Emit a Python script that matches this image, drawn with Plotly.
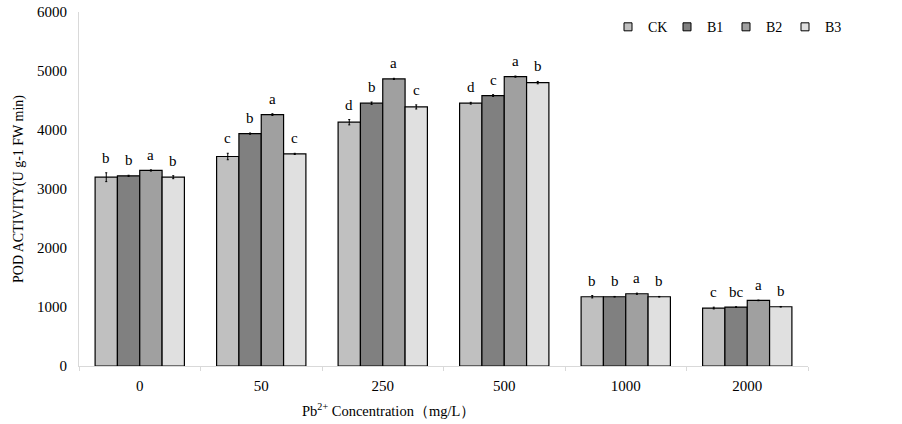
import plotly.graph_objects as go

categories = ["0", "50", "250", "500", "1000", "2000"]
series_names = ["CK", "B1", "B2", "B3"]
ck = [3200, 3551, 4132, 4454, 1174, 982]
b1 = [3223, 3939, 4454, 4584, 1174, 999]
b2 = [3314, 4261, 4866, 4905, 1225, 1112]
b3 = [3200, 3595, 4391, 4803, 1174, 1004]
ck_err = [75, 55, 45, 15, 20, 15]
b1_err = [10, 10, 20, 15, 5, 5]
b2_err = [10, 15, 10, 10, 10, 5]
b3_err = [25, 10, 35, 20, 5, 5]
ck_lab = ["b", "c", "d", "d", "b", "c"]
b1_lab = ["b", "b", "b", "c", "b", "bc"]
b2_lab = ["a", "a", "a", "a", "a", "a"]
b3_lab = ["b", "c", "c", "b", "b", "b"]
colors = ["#c0c0c0", "#808080", "#a0a0a0", "#e0e0e0"]

values = [ck, b1, b2, b3]
errors = [ck_err, b1_err, b2_err, b3_err]
labels = [ck_lab, b1_lab, b2_lab, b3_lab]

FONT = "Liberation Serif, Times New Roman, serif"

fig = go.Figure()
for name, v, e, c in zip(series_names, values, errors, colors):
    fig.add_trace(go.Bar(
        name=name, x=categories, y=v, marker_color=c,
        marker_line_color="black", marker_line_width=1.2, showlegend=False,
        error_y=dict(type="data", array=e, visible=True, color="black",
                     thickness=1, width=1),
    ))
# legend-only entries with small square symbols
for name, c in zip(series_names, colors):
    fig.add_trace(go.Scatter(
        name=name, x=[None], y=[None], mode="markers",
        marker=dict(symbol="square", size=8, color=c, line=dict(color="black", width=1)),
    ))

# significance letters
n = len(series_names)
for si, (v, e, lab) in enumerate(zip(values, errors, labels)):
    for ci, cat in enumerate(categories):
        fig.add_annotation(
            x=ci + (si - (n - 1) / 2) * 0.1837, y=v[ci] + e[ci], text=lab[ci],
            showarrow=False, xref="x", yref="y", yanchor="bottom", yshift=5,
            font=dict(family=FONT, size=15, color="black"),
        )

fig.add_annotation(
    xref="paper", yref="paper", x=(388 - 79) / 729, y=-(410 - 366) / 354.3,
    xanchor="center", yanchor="middle",
    text="Pb<sup>2+</sup> Concentration（mg/L）",
    showarrow=False, font=dict(family=FONT, size=14.5, color="black"),
)

fig.update_layout(
    width=902, height=424,
    margin=dict(l=79, r=94, t=12, b=58, autoexpand=False),
    paper_bgcolor="white", plot_bgcolor="white",
    barmode="group", bargap=0.265, bargroupgap=0,
    font=dict(family=FONT, size=15, color="black"),
    showlegend=True,
    legend=dict(orientation="h", x=(608 - 79) / 729, xanchor="left", y=0.957,
                yanchor="middle", font=dict(family=FONT, size=14), entrywidth=14,
                itemwidth=30, tracegroupgap=0, bgcolor="rgba(0,0,0,0)"),
    yaxis=dict(range=[0, 6000], dtick=1000, showgrid=False, showline=True,
               linecolor="#d9d9d9", linewidth=1, ticks="", zeroline=False,
               ticklabelstandoff=8, automargin=False,
               title=dict(text="POD ACTIVITY(U g-1 FW min)", standoff=10,
                          font=dict(family=FONT, size=14))),
    xaxis=dict(type="category", showline=True, linecolor="#d9d9d9", linewidth=1,
               ticks="outside", tickson="boundaries", ticklen=4, tickcolor="#d9d9d9",
               showgrid=False, ticklabelstandoff=6, automargin=False, tickangle=0,
               range=[-0.5, 5.5]),
)

fig.write_html("out.html", config={"displayModeBar": False},
               post_script="document.body.style.margin='0';")
